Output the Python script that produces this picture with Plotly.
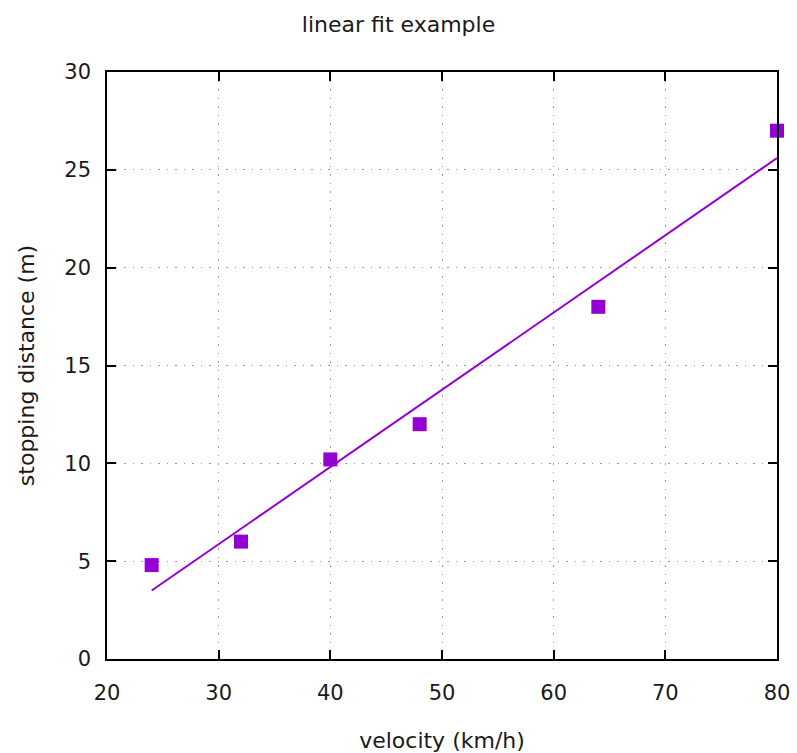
import plotly.graph_objects as go

velocity = [24, 32, 40, 48, 64, 80]
distance = [4.8, 6.0, 10.2, 12.0, 18.0, 27.0]
fit_x = [24, 80]
fit_y = [3.5, 25.6]

color = "#9400D3"
font = "DejaVu Sans"
txt = "#1a1a1a"

fig = go.Figure()
fig.add_trace(go.Scatter(x=fit_x, y=fit_y, mode="lines",
                         line=dict(color=color, width=2), showlegend=False))
fig.add_trace(go.Scatter(x=velocity, y=distance, mode="markers",
                         marker=dict(symbol="square", size=14, color=color),
                         showlegend=False, cliponaxis=False))

axis_common = dict(
    showline=True, linecolor="black", linewidth=1.5, mirror="ticks",
    ticks="inside", ticklen=9, tickwidth=1.5, tickcolor="black",
    showgrid=True, gridcolor="#9a9a9a", griddash="1.5px,7px", gridwidth=1.3,
    zeroline=False, automargin=False,
    tickfont=dict(family=font, size=21, color=txt),
)

fig.update_layout(
    width=797, height=753,
    margin=dict(l=107, r=20, t=72, b=94),
    paper_bgcolor="white", plot_bgcolor="white",
    title=dict(text="linear fit example", x=0.5, xanchor="center",
               y=1 - 24 / 753, yanchor="middle",
               font=dict(family=font, size=22, color=txt)),
    xaxis=dict(range=[20, 80], dtick=10, ticklabelstandoff=14, **axis_common,
               title=dict(text="velocity (km/h)", standoff=30,
                          font=dict(family=font, size=22, color=txt))),
    yaxis=dict(range=[0, 30], dtick=5, ticklabelstandoff=10, **axis_common,
               title=dict(text="stopping distance (m)", standoff=24,
                          font=dict(family=font, size=22, color=txt))),
)

fig.write_html("out.html")
